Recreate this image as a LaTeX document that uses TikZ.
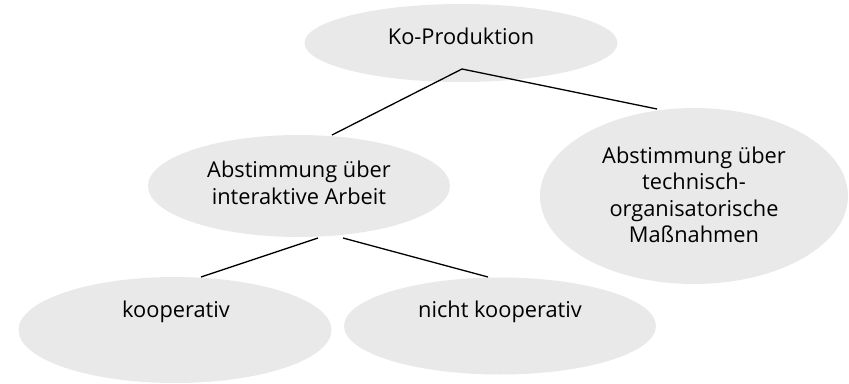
\documentclass[tikz,border=0pt]{standalone}
\usepackage{fontspec}
\setmainfont{Open Sans}
\usetikzlibrary{shapes.geometric}
\definecolor{ellfill}{RGB}{233,233,233}
\tikzset{
  ell/.style={ellipse, fill=ellfill, draw=none, inner sep=0pt},
  lbl/.style={align=center, font=\fontsize{21.8}{26.5}\selectfont, inner sep=0pt, anchor=center},
  conn/.style={draw=black, line width=1.3pt}
}
\begin{document}
\begin{tikzpicture}[x=1pt,y=-1pt]
\useasboundingbox (0,0) rectangle (849,383);
\node[ell, minimum width=313pt, minimum height=78pt] (top) at (461,43) {};
\node[ell, minimum width=302pt, minimum height=102pt] (mid) at (299,186) {};
\node[ell, minimum width=308pt, minimum height=176pt] (right) at (694,196) {};
\node[ell, minimum width=313pt, minimum height=106pt] (bl) at (175,330) {};
\node[ell, minimum width=312pt, minimum height=97pt] (br) at (500,326) {};
\node[lbl] (ttop) at (461,36) {Ko-Produktion};
\node[lbl] (tmid) at (299,183) {Abstimmung über\\interaktive Arbeit};
\node[lbl] (tright) at (694,195) {Abstimmung über\\technisch-\\organisatorische\\Maßnahmen};
\node[lbl] (tbl) at (176,312) {kooperativ};
\node[lbl] (tbr) at (500,312) {nicht kooperativ};
\coordinate (a0) at (462,69);
\coordinate (a1) at (332,135);
\coordinate (a2) at (657,109);
\coordinate (b0) at (318,238);
\coordinate (b1) at (201,277);
\coordinate (c0) at (343,238);
\coordinate (c1) at (488,277);
\draw[conn] (a1) -- (a0) -- (a2);
\draw[conn] (b0) -- (b1);
\draw[conn] (c0) -- (c1);
\end{tikzpicture}
\end{document}
